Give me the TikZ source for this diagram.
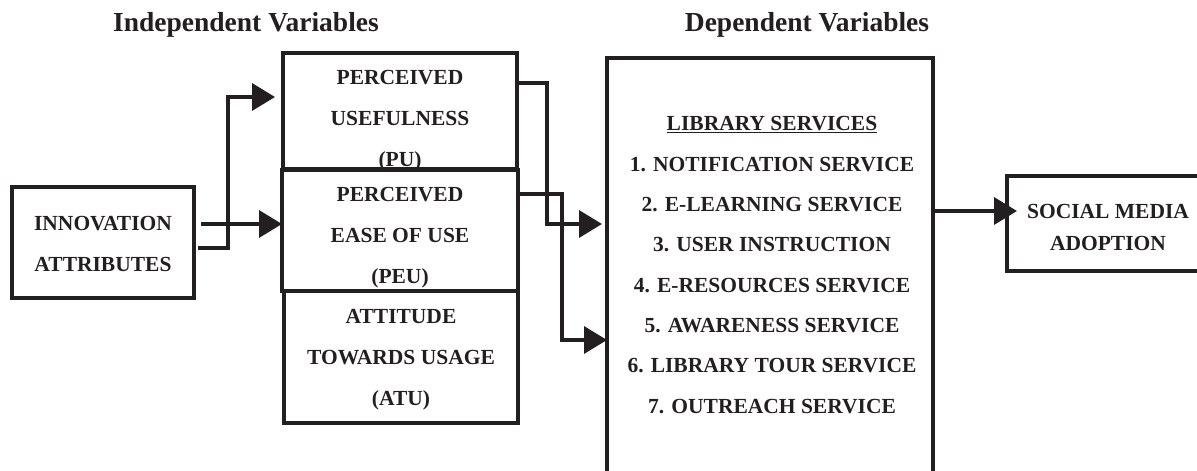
\documentclass[tikz,border=0pt]{standalone}
\usepackage{fontspec}
\setmainfont{Liberation Serif}
\usetikzlibrary{arrows.meta,calc}
\definecolor{ink}{HTML}{231F20}
\begin{document}
\begin{tikzpicture}[x=1pt,y=-1pt,
  box/.style={draw=ink, line width=3.2pt, inner sep=0pt, outer sep=0pt},
  txt/.style={font=\bfseries\fontsize{21.5}{41}\selectfont, align=center, inner sep=0pt, text=ink},
  conn/.style={draw=ink, line width=3.6pt, -{Triangle[length=23pt,width=27pt]}},
  hdr/.style={font=\bfseries\fontsize{27.5}{30}\selectfont, inner sep=0pt, text=ink}]
\useasboundingbox (0,0) rectangle (1197,471);
\clip (0,0) rectangle (1197,471);

% headers
\node[hdr] (hind) at (246,25) {Independent Variables};
\node[hdr] (hdep) at (807,25) {Dependent Variables};

% boxes
\node[box, minimum width=182, minimum height=111] (inn) at (103,242.5) {};
\node[box, minimum width=234, minimum height=116] (pu) at (400,111) {};
\node[box, minimum width=236, minimum height=121] (peu) at (400,230.5) {};
\node[box, minimum width=234, minimum height=132] (atu) at (401,357) {};
\node[box, minimum width=326, minimum height=432] (dep) at (770,274) {};
\node[box, minimum width=202, minimum height=95] (sma) at (1108,223.5) {};

% texts
\node[txt] (innt) at (103,244) {INNOVATION\\ATTRIBUTES};
\node[txt] (put) at (400,120.5) {PERCEIVED\\USEFULNESS\\(PU)};
\node[txt] (peut) at (400,238) {PERCEIVED\\EASE OF USE\\(PEU)};
\node[txt] (atut) at (401,359.5) {ATTITUDE\\TOWARDS USAGE\\(ATU)};
\node[txt, font=\bfseries\fontsize{21.5}{40.3}\selectfont] (dept) at (772,265)
  {\underline{LIBRARY SERVICES}\\1. NOTIFICATION SERVICE\\2. E-LEARNING SERVICE\\3. USER INSTRUCTION\\4. E-RESOURCES SERVICE\\5. AWARENESS SERVICE\\6. LIBRARY TOUR SERVICE\\7. OUTREACH SERVICE};
\node[txt, font=\bfseries\fontsize{21.5}{32}\selectfont] (smat) at (1108,227) {SOCIAL MEDIA\\ADOPTION};

% connectors
\draw[conn] ([xshift=7pt,yshift=18.5pt]inn.east) -- ([yshift=6.5pt]peu.west);
\draw[conn] ([xshift=4pt,yshift=-5.5pt]inn.east) -| ($([xshift=-8pt,yshift=14pt]pu.west)+(-47,0)$) -- ([xshift=-8pt,yshift=14pt]pu.west);
\draw[conn] ([yshift=28pt]pu.east) -| ($([xshift=-5pt,yshift=50pt]dep.west)+(-55,0)$) -- ([xshift=-5pt,yshift=50pt]dep.west);
\draw[conn] ([yshift=36.5pt]peu.east) -| ($([yshift=-66pt]dep.west)+(-45,0)$) -- ([yshift=-66pt]dep.west);
\draw[conn] ([yshift=63pt]dep.east) -- ([xshift=10pt,yshift=12.5pt]sma.west);
\end{tikzpicture}
\end{document}
